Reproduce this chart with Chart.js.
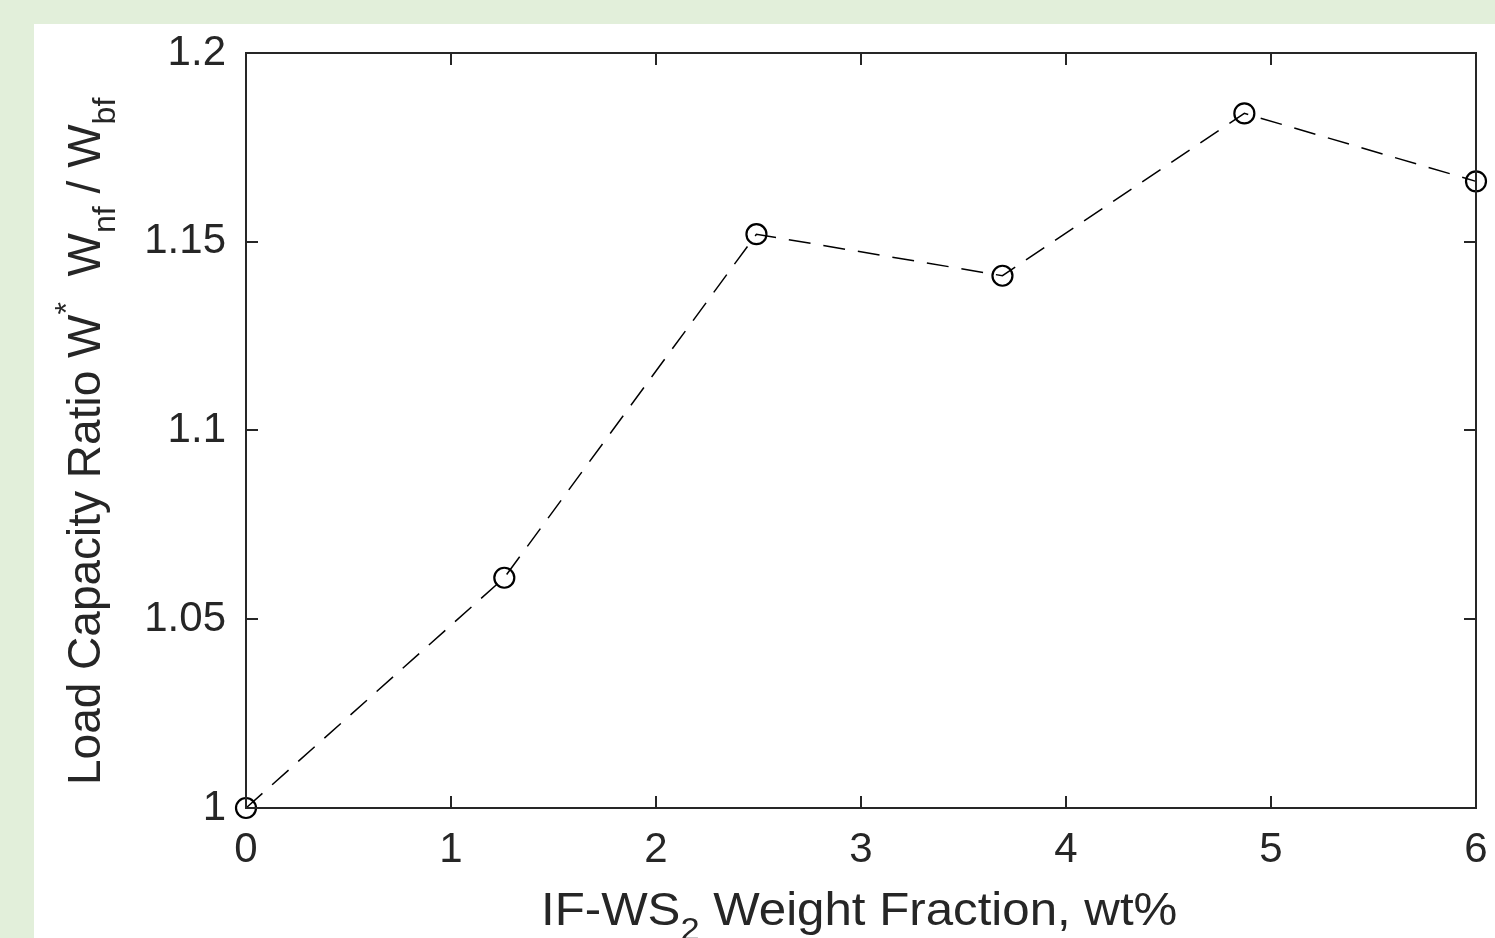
<!DOCTYPE html>
<html>
<head>
<meta charset="utf-8">
<title>Load capacity ratio</title>
<script src="https://cdn.jsdelivr.net/npm/chart.js@4.4.1/dist/chart.umd.min.js"></script>
<style>
    html, body { margin: 0; padding: 0; background: #e2efda; }
    #wrap { position: relative; width: 1495px; height: 938px; }
</style>
</head>
<body>
<div id="wrap"><canvas id="loadChart" width="1495" height="938"></canvas></div>
<script>
// values
const weightFraction = [0, 1.26, 2.49, 3.69, 4.87, 6];
const loadRatio = [1.0, 1.061, 1.152, 1.141, 1.184, 1.166];
const xTicks = [0, 1, 2, 3, 4, 5, 6];
const yTicks = [1, 1.05, 1.1, 1.15, 1.2];
const yTickLabels = ['1', '1.05', '1.1', '1.15', '1.2'];

const FONT = "'Liberation Sans', Arial, sans-serif";
const INK = '#262626';

// text pieces for the axis titles: [text, 'n' | 'sub' | 'sup']
const xTitle = [['IF-WS', 'n'], ['2', 'sub'], [' Weight Fraction, wt%', 'n']];
const yTitle = [['Load Capacity Ratio W', 'n'], ['*', 'sup'], ['  W', 'n'], ['nf', 'sub'], [' / W', 'n'], ['bf', 'sub']];

function drawRich(ctx, parts, size) {
    let x = 0;
    ctx.textBaseline = 'alphabetic';
    ctx.textAlign = 'left';
    parts.forEach(([txt, kind]) => {
        let s = size, dy = 0;
        if (kind === 'sub') { s = size * 0.7; dy = size * 0.32; }
        if (kind === 'sup') { s = size * 0.7; dy = -size * 0.5; }
        ctx.font = `${s}px ${FONT}`;
        ctx.fillText(txt, x, dy);
        x += ctx.measureText(txt).width;
    });
}

const framePlugin = {
    id: 'frame',
    beforeDraw(chart) {
        const ctx = chart.ctx;
        ctx.save();
        ctx.fillStyle = '#e2efda';
        ctx.fillRect(0, 0, chart.width, chart.height);
        ctx.fillStyle = '#ffffff';
        ctx.fillRect(34, 24, chart.width - 34, chart.height - 24);
        ctx.restore();
    },
    afterDraw(chart) {
        const ctx = chart.ctx;
        const { left, right, top, bottom } = chart.chartArea;
        const xs = chart.scales.x, ys = chart.scales.y;
        const tick = 12;
        ctx.save();
        ctx.strokeStyle = INK;
        ctx.lineWidth = 2;
        ctx.strokeRect(left, top, right - left, bottom - top);
        ctx.beginPath();
        xTicks.forEach(v => {
            const px = Math.round(xs.getPixelForValue(v));
            ctx.moveTo(px, bottom); ctx.lineTo(px, bottom - tick);
            ctx.moveTo(px, top); ctx.lineTo(px, top + tick);
        });
        yTicks.forEach(v => {
            const py = Math.round(ys.getPixelForValue(v));
            ctx.moveTo(left, py); ctx.lineTo(left + tick, py);
            ctx.moveTo(right, py); ctx.lineTo(right - tick, py);
        });
        ctx.stroke();

        // axis titles
        ctx.fillStyle = INK;
        ctx.save();
        ctx.translate(541, 925);
        ctx.scale(1.07, 1);
        drawRich(ctx, xTitle, 46);
        ctx.restore();

        ctx.save();
        ctx.translate(100, 785);
        ctx.rotate(-Math.PI / 2);
        drawRich(ctx, yTitle, 46);
        ctx.restore();
        ctx.restore();
    }
};

function zeroPadding(scale) {
    scale.paddingLeft = 0;
    scale.paddingRight = 0;
    scale.paddingTop = 0;
    scale.paddingBottom = 0;
}

const ctx = document.getElementById('loadChart').getContext('2d');
new Chart(ctx, {
    type: 'line',
    data: {
        datasets: [{
            data: weightFraction.map((x, i) => ({ x: x, y: loadRatio[i] })),
            borderColor: '#000000',
            borderWidth: 1.5,
            borderDash: [22, 13],
            pointStyle: 'circle',
            pointRadius: 10,
            pointBorderWidth: 2.2,
            pointBorderColor: '#000000',
            pointBackgroundColor: 'rgba(0,0,0,0)',
            tension: 0,
            fill: false,
            clip: false
        }]
    },
    options: {
        responsive: false,
        animation: false,
        layout: { padding: { left: 0, top: 53, right: 19, bottom: 0 } },
        plugins: {
            legend: { display: false },
            tooltip: { enabled: false }
        },
        scales: {
            x: {
                type: 'linear',
                min: 0,
                max: 6,
                afterBuildTicks: s => { s.ticks = xTicks.map(v => ({ value: v })); },
                afterFit: s => { s.height = 130; zeroPadding(s); },
                grid: { display: false, drawTicks: false },
                border: { display: false },
                ticks: {
                    color: INK,
                    padding: 17,
                    maxRotation: 0,
                    font: { family: FONT, size: 42 },
                    callback: v => String(v)
                }
            },
            y: {
                type: 'linear',
                min: 1,
                max: 1.2,
                afterBuildTicks: s => { s.ticks = yTicks.map(v => ({ value: v })); },
                afterFit: s => { s.width = 246; zeroPadding(s); },
                grid: { display: false, drawTicks: false },
                border: { display: false },
                ticks: {
                    color: INK,
                    padding: 20,
                    font: { family: FONT, size: 42 },
                    callback: (v, i) => yTickLabels[i]
                }
            }
        }
    },
    plugins: [framePlugin]
});
</script>
</body>
</html>
